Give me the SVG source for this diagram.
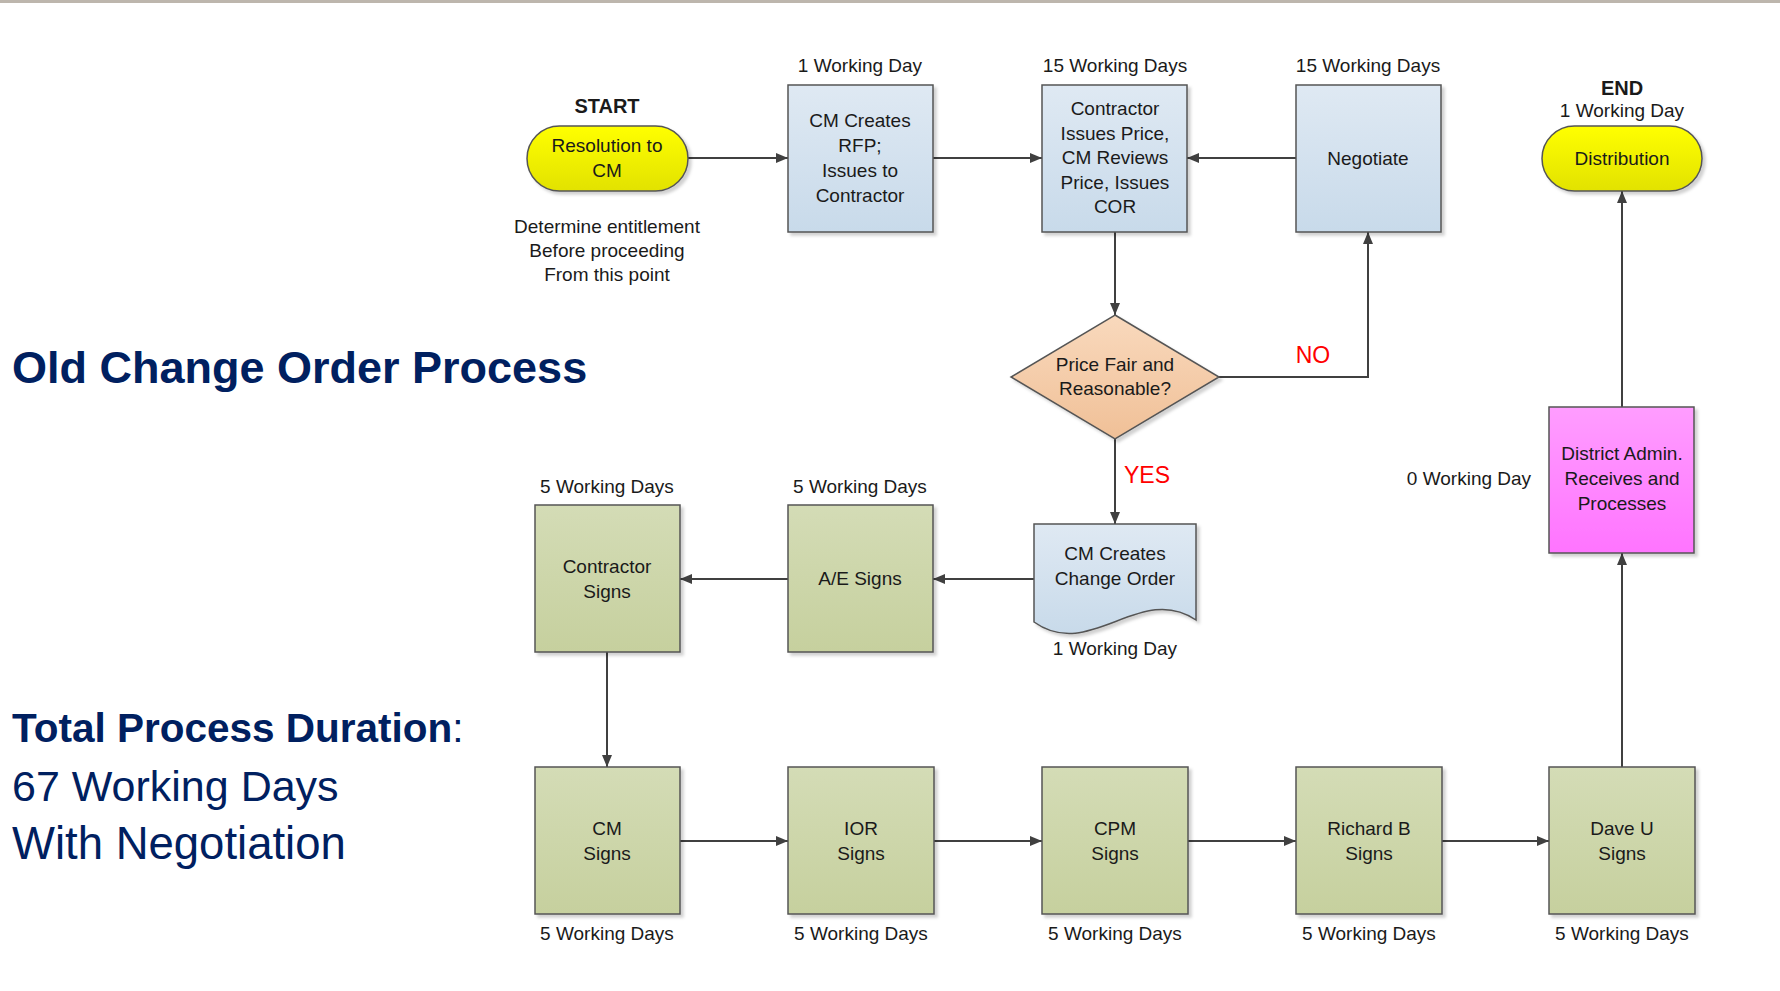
<svg xmlns="http://www.w3.org/2000/svg" width="1780" height="991" viewBox="0 0 1780 991">
<style>
text{font-family:"Liberation Sans",Arial,sans-serif;fill:#1a1a1a;}
.t{font-size:19px;text-anchor:middle;}
.lbl{font-size:19px;text-anchor:middle;}
.hd{font-size:20px;font-weight:bold;text-anchor:middle;}
.red{font-size:23px;fill:#ff0000;text-anchor:middle;}
.big{fill:#002060;}
.shape{stroke:#555555;stroke-width:1.5;filter:url(#sh);}
.conn{fill:none;stroke:#404040;stroke-width:2;marker-end:url(#arr);}
</style>
<defs>
<linearGradient id="gBlue" x1="0" y1="0" x2="0" y2="1"><stop offset="0" stop-color="#dfe9f3"/><stop offset="1" stop-color="#c8daea"/></linearGradient>
<linearGradient id="gGreen" x1="0" y1="0" x2="0" y2="1"><stop offset="0" stop-color="#d4dcb6"/><stop offset="1" stop-color="#c6d09e"/></linearGradient>
<linearGradient id="gYellow" x1="0" y1="0" x2="0" y2="1"><stop offset="0" stop-color="#ffff00"/><stop offset="1" stop-color="#e2e200"/></linearGradient>
<linearGradient id="gPeach" x1="0" y1="0" x2="0" y2="1"><stop offset="0" stop-color="#f9d9bd"/><stop offset="1" stop-color="#f0c097"/></linearGradient>
<linearGradient id="gPink" x1="0" y1="0" x2="0" y2="1"><stop offset="0" stop-color="#ff9dff"/><stop offset="1" stop-color="#ff74ff"/></linearGradient>
<filter id="sh" x="-10%" y="-10%" width="130%" height="130%"><feDropShadow dx="3" dy="3" stdDeviation="1.5" flood-color="#000" flood-opacity="0.18"/></filter>
<marker id="arr" markerUnits="userSpaceOnUse" viewBox="0 0 12 10" refX="12" refY="5" markerWidth="12" markerHeight="10" orient="auto"><path d="M0,0 L12,5 L0,10 z" fill="#404040"/></marker>
</defs>
<rect x="0" y="0" width="1780" height="3" fill="#bdb6ad"/>

<g id="title">
<text class="big" x="12" y="383" font-size="45" font-weight="bold">Old Change Order Process</text>
</g>
<g id="total">
<text class="big" x="12" y="742" font-size="40.5"><tspan font-weight="bold">Total Process Duration</tspan>:</text>
<text class="big" x="12" y="801" font-size="43">67 Working Days</text>
<text class="big" x="12" y="859" font-size="45.5">With Negotiation</text>
</g>

<g id="connectors">
<path class="conn" d="M688,158 H788"/>
<path class="conn" d="M933,158 H1042"/>
<path class="conn" d="M1296,158 H1187"/>
<path class="conn" d="M1115,232 V315"/>
<path class="conn" d="M1219,377 H1368 V232"/>
<path class="conn" d="M1115,439 V524"/>
<path class="conn" d="M1034,579 H933"/>
<path class="conn" d="M788,579 H680"/>
<path class="conn" d="M607,652 V767"/>
<path class="conn" d="M680,841 H788"/>
<path class="conn" d="M934,841 H1042"/>
<path class="conn" d="M1188,841 H1296"/>
<path class="conn" d="M1442,841 H1549"/>
<path class="conn" d="M1622,767 V553"/>
<path class="conn" d="M1622,407 V191"/>
<text class="red" x="1313" y="363">NO</text>
<text class="red" x="1147" y="483">YES</text>
</g>

<g id="start">
<text class="hd" x="607" y="113">START</text>
<rect class="shape" x="527" y="126" width="161" height="65" rx="32.5" fill="url(#gYellow)"/>
<text class="t" x="607" y="152">Resolution to</text>
<text class="t" x="607" y="177">CM</text>
<text class="lbl" x="607" y="233">Determine entitlement</text>
<text class="lbl" x="607" y="257">Before proceeding</text>
<text class="lbl" x="607" y="281">From this point</text>
</g>

<g id="cm-rfp">
<text class="lbl" x="860" y="72">1 Working Day</text>
<rect class="shape" x="788" y="85" width="145" height="147" fill="url(#gBlue)"/>
<text class="t" x="860" y="127">CM Creates</text>
<text class="t" x="860" y="152">RFP;</text>
<text class="t" x="860" y="177">Issues to</text>
<text class="t" x="860" y="202">Contractor</text>
</g>

<g id="contractor-price">
<text class="lbl" x="1115" y="72">15 Working Days</text>
<rect class="shape" x="1042" y="85" width="145" height="147" fill="url(#gBlue)"/>
<text class="t" x="1115" y="115">Contractor</text>
<text class="t" x="1115" y="140">Issues Price,</text>
<text class="t" x="1115" y="164">CM Reviews</text>
<text class="t" x="1115" y="189">Price, Issues</text>
<text class="t" x="1115" y="213">COR</text>
</g>

<g id="negotiate">
<text class="lbl" x="1368" y="72">15 Working Days</text>
<rect class="shape" x="1296" y="85" width="145" height="147" fill="url(#gBlue)"/>
<text class="t" x="1368" y="165">Negotiate</text>
</g>

<g id="end">
<text class="hd" x="1622" y="95">END</text>
<text class="lbl" x="1622" y="117">1 Working Day</text>
<rect class="shape" x="1542" y="126" width="160" height="65" rx="32.5" fill="url(#gYellow)"/>
<text class="t" x="1622" y="165">Distribution</text>
</g>

<g id="decision">
<path class="shape" d="M1115,315 L1219,377 L1115,439 L1011,377 Z" fill="url(#gPeach)"/>
<text class="t" x="1115" y="371">Price Fair and</text>
<text class="t" x="1115" y="395">Reasonable?</text>
</g>

<g id="district">
<text class="lbl" x="1469" y="485">0 Working Day</text>
<rect class="shape" x="1549" y="407" width="145" height="146" fill="url(#gPink)"/>
<text class="t" x="1622" y="460">District Admin.</text>
<text class="t" x="1622" y="485">Receives and</text>
<text class="t" x="1622" y="510">Processes</text>
</g>

<g id="change-order">
<path class="shape" d="M1034,524 H1196 V620 C1140,582 1090,662 1034,622 Z" fill="url(#gBlue)"/>
<text class="t" x="1115" y="560">CM Creates</text>
<text class="t" x="1115" y="585">Change Order</text>
<text class="lbl" x="1115" y="655">1 Working Day</text>
</g>

<g id="ae-signs">
<text class="lbl" x="860" y="493">5 Working Days</text>
<rect class="shape" x="788" y="505" width="145" height="147" fill="url(#gGreen)"/>
<text class="t" x="860" y="585">A/E Signs</text>
</g>

<g id="contractor-signs">
<text class="lbl" x="607" y="493">5 Working Days</text>
<rect class="shape" x="535" y="505" width="145" height="147" fill="url(#gGreen)"/>
<text class="t" x="607" y="573">Contractor</text>
<text class="t" x="607" y="598">Signs</text>
</g>

<g id="cm-signs">
<rect class="shape" x="535" y="767" width="145" height="147" fill="url(#gGreen)"/>
<text class="t" x="607" y="835">CM</text>
<text class="t" x="607" y="860">Signs</text>
<text class="lbl" x="607" y="940">5 Working Days</text>
</g>

<g id="ior-signs">
<rect class="shape" x="788" y="767" width="146" height="147" fill="url(#gGreen)"/>
<text class="t" x="861" y="835">IOR</text>
<text class="t" x="861" y="860">Signs</text>
<text class="lbl" x="861" y="940">5 Working Days</text>
</g>

<g id="cpm-signs">
<rect class="shape" x="1042" y="767" width="146" height="147" fill="url(#gGreen)"/>
<text class="t" x="1115" y="835">CPM</text>
<text class="t" x="1115" y="860">Signs</text>
<text class="lbl" x="1115" y="940">5 Working Days</text>
</g>

<g id="richard-signs">
<rect class="shape" x="1296" y="767" width="146" height="147" fill="url(#gGreen)"/>
<text class="t" x="1369" y="835">Richard B</text>
<text class="t" x="1369" y="860">Signs</text>
<text class="lbl" x="1369" y="940">5 Working Days</text>
</g>

<g id="dave-signs">
<rect class="shape" x="1549" y="767" width="146" height="147" fill="url(#gGreen)"/>
<text class="t" x="1622" y="835">Dave U</text>
<text class="t" x="1622" y="860">Signs</text>
<text class="lbl" x="1622" y="940">5 Working Days</text>
</g>
</svg>
